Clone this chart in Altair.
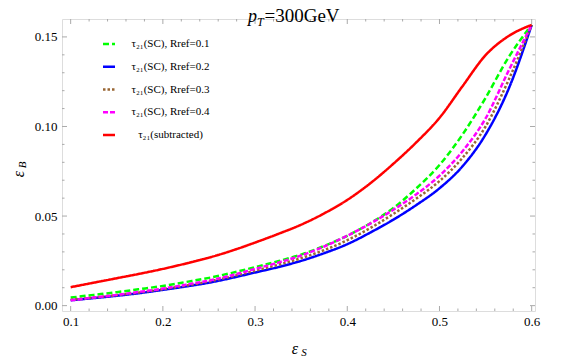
import altair as alt
import pandas as pd

# ---- data ----
eps_s = [0.100, 0.125, 0.150, 0.175, 0.200, 0.225, 0.250, 0.275, 0.300, 0.325, 0.350,
         0.375, 0.400, 0.425, 0.450, 0.475, 0.500, 0.525, 0.550, 0.575, 0.600]
sc_r01 = [0.0045, 0.0060, 0.0075, 0.0092, 0.0110, 0.0132, 0.0155, 0.0183, 0.0215, 0.0248, 0.0285,
          0.0333, 0.0390, 0.0460, 0.0545, 0.0655, 0.0785, 0.0955, 0.1160, 0.1387, 0.1567]
sc_r02 = [0.0030, 0.0042, 0.0055, 0.0070, 0.0088, 0.0107, 0.0128, 0.0155, 0.0185, 0.0215, 0.0250,
          0.0293, 0.0343, 0.0408, 0.0480, 0.0562, 0.0655, 0.0778, 0.0955, 0.1210, 0.1567]
sc_r03 = [0.0033, 0.0045, 0.0058, 0.0074, 0.0092, 0.0112, 0.0135, 0.0163, 0.0195, 0.0228, 0.0265,
          0.0310, 0.0365, 0.0433, 0.0512, 0.0598, 0.0695, 0.0825, 0.1000, 0.1260, 0.1567]
sc_r04 = [0.0030, 0.0045, 0.0060, 0.0077, 0.0095, 0.0117, 0.0140, 0.0170, 0.0205, 0.0240, 0.0280,
          0.0330, 0.0390, 0.0458, 0.0535, 0.0622, 0.0725, 0.0862, 0.1045, 0.1312, 0.1567]
subtracted = [0.0103, 0.0128, 0.0153, 0.0178, 0.0205, 0.0235, 0.0268, 0.0307, 0.0352, 0.0400, 0.0452,
              0.0515, 0.0590, 0.0683, 0.0792, 0.0912, 0.1048, 0.1225, 0.1398, 0.1505, 0.1567]

series_names = ["τ₂₁(SC), Rref=0.1", "τ₂₁(SC), Rref=0.2", "τ₂₁(SC), Rref=0.3",
                "τ₂₁(SC), Rref=0.4", "τ₂₁(subtracted)"]
series_colors = ["#00ff00", "#0000ff", "#996633", "#ff00ff", "#ff0000"]
series_dashes = [[6, 3], [1, 0], [2.5, 2], [5, 2], [1, 0]]

x_major = [0.1, 0.2, 0.3, 0.4, 0.5, 0.6]
x_minor = [0.12, 0.14, 0.16, 0.18, 0.22, 0.24, 0.26, 0.28, 0.32, 0.34, 0.36, 0.38,
           0.42, 0.44, 0.46, 0.48, 0.52, 0.54, 0.56, 0.58]
y_major = [0.0, 0.05, 0.10, 0.15]
y_minor = [0.01, 0.02, 0.03, 0.04, 0.06, 0.07, 0.08, 0.09, 0.11, 0.12, 0.13, 0.14]

# ---- layout ----
W, H = 473, 292
FRAME = "#aaaaaa"
FONT = "Liberation Serif"

rows = []
for name, vals in zip(series_names, [sc_r01, sc_r02, sc_r03, sc_r04, subtracted]):
    for xv, yv in zip(eps_s, vals):
        rows.append({"eps_s": xv, "eps_b": yv, "series": name})
df = pd.DataFrame(rows)

xs = alt.Scale(domain=[0.0906, 0.6036], nice=False, zero=False)
ys = alt.Scale(domain=[-0.003, 0.160], nice=False, zero=False)
x_axis = alt.Axis(values=x_major, format=".1f", ticks=False, domain=False, grid=False,
                  labelFont=FONT, labelFontSize=13, labelColor="black", labelPadding=4,
                  labelFlush=False, title=None)
y_axis = alt.Axis(values=y_major, format=".2f", ticks=False, domain=False, grid=False,
                  labelFont=FONT, labelFontSize=13, labelColor="black", labelPadding=5,
                  labelFlush=False, title=None)
color = alt.Color("series:N", scale=alt.Scale(domain=series_names, range=series_colors), legend=None)
dash = alt.StrokeDash("series:N", scale=alt.Scale(domain=series_names, range=series_dashes), legend=None)

lines = alt.Chart(df).mark_line(strokeWidth=2.5, interpolate="monotone").encode(
    x=alt.X("eps_s:Q", scale=xs, axis=x_axis),
    y=alt.Y("eps_b:Q", scale=ys, axis=y_axis),
    color=color, strokeDash=dash,
    order=alt.Order("eps_s:Q"),
)

def xticks(vals, length):
    d = pd.DataFrame({"eps_s": vals})
    base = alt.Chart(d).mark_rule(color=FRAME, strokeWidth=1)
    bot = base.encode(x=alt.X("eps_s:Q", scale=xs, axis=x_axis), y=alt.value(H), y2=alt.value(H - length))
    top = base.encode(x=alt.X("eps_s:Q", scale=xs, axis=x_axis), y=alt.value(0), y2=alt.value(length))
    return [bot, top]

def yticks(vals, length):
    d = pd.DataFrame({"eps_b": vals})
    base = alt.Chart(d).mark_rule(color=FRAME, strokeWidth=1)
    lft = base.encode(y=alt.Y("eps_b:Q", scale=ys, axis=y_axis), x=alt.value(0), x2=alt.value(length))
    rgt = base.encode(y=alt.Y("eps_b:Q", scale=ys, axis=y_axis), x=alt.value(W), x2=alt.value(W - length))
    return [lft, rgt]

ticks = xticks(x_major, 5) + xticks(x_minor, 2.5) + yticks(y_major, 5) + yticks(y_minor, 2.5)

def txt(s, x, y, size, style="normal", align="left", baseline="alphabetic", angle=0):
    return alt.Chart(pd.DataFrame({"t": [s]})).mark_text(
        font=FONT, fontSize=size, fontStyle=style, align=align, baseline=baseline,
        angle=angle, color="black"
    ).encode(x=alt.value(x), y=alt.value(y), text="t:N")

labels = [
    txt("p", 186, 2.5, 18, "italic"),
    txt("T", 195, 6.5, 12, "italic"),
    txt("=300GeV", 202.5, 2.5, 19),
    txt("ε", 233, 330, 16, "italic", "center", "middle"),
    txt("S", 242, 334, 11, "italic", "center", "middle"),
    txt("ε", -43, 155, 16, "italic", "center", "middle", 270),
    txt("B", -39, 146, 11, "italic", "center", "middle", 270),
]

# ---- manual legend ----
leg = pd.DataFrame({"series": series_names, "i": list(range(len(series_names)))})
leg_base = alt.Chart(leg).transform_calculate(ly="25 + datum.i * 22.75")
leg_lines = leg_base.mark_rule(strokeWidth=2.5).encode(
    x=alt.value(41), x2=alt.value(53),
    y=alt.Y("ly:Q", scale=None, axis=None),
    color=color, strokeDash=dash,
)
leg_text = leg_base.mark_text(font=FONT, fontSize=11, align="center", baseline="middle", color="black").encode(
    x=alt.value(108.5),
    y=alt.Y("ly:Q", scale=None, axis=None),
    text="series:N",
)

chart = alt.layer(*ticks, lines, leg_lines, leg_text, *labels).properties(
    width=W, height=H,
    autosize=alt.AutoSizeParams(type="none"),
    padding={"left": 54, "top": 11, "right": 30, "bottom": 50},
).configure_view(stroke=FRAME, strokeWidth=1).configure_axis(
    labelFont=FONT, labelFontSize=13, labelColor="black"
).configure(background="white", font=FONT)

chart.save("out.html", embed_options={"renderer": "svg", "actions": False})
